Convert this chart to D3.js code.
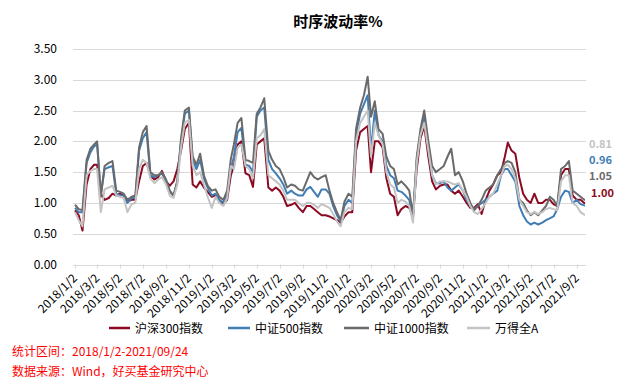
<!DOCTYPE html>
<html><head><meta charset="utf-8">
<script src="https://cdn.jsdelivr.net/npm/d3@7"></script>
<style>
body{margin:0;background:#fff;}
svg{display:block;}
text{font-family:"Noto Sans CJK SC","Liberation Sans",sans-serif;}
</style></head>
<body><svg id="c" width="624" height="382"></svg>
<script>
const title = "时序波动率%";
const seriesNames = ["沪深300指数","中证500指数","中证1000指数","万得全A"];
const seriesColors = ["#8B0A22","#3F7DB4","#6A6A6A","#C3C3C3"];
const yTicks = [0,0.5,1,1.5,2,2.5,3,3.5];
const xTickLabels = ["2018/1/2","2018/3/2","2018/5/2","2018/7/2","2018/9/2","2018/11/2","2019/1/2","2019/3/2","2019/5/2","2019/7/2","2019/9/2","2019/11/2","2020/1/2","2020/3/2","2020/5/2","2020/7/2","2020/9/2","2020/11/2","2021/1/2","2021/3/2","2021/5/2","2021/7/2","2021/9/2"];
const endLabels = ["1.00","0.96","1.05","0.81"];
const footer1 = "统计区间：2018/1/2-2021/09/24";
const footer2 = "数据来源：Wind，好买基金研究中心";

const dates = [
"2018-01-02","2018-01-12","2018-01-22","2018-02-02","2018-02-12","2018-02-22","2018-03-02","2018-03-12","2018-03-22","2018-04-02","2018-04-12","2018-04-22",
"2018-05-02","2018-05-12","2018-05-22","2018-06-02","2018-06-12","2018-06-22","2018-07-02","2018-07-12","2018-07-22","2018-08-02","2018-08-12","2018-08-22",
"2018-09-02","2018-09-12","2018-09-22","2018-10-02","2018-10-12","2018-10-22","2018-11-02","2018-11-12","2018-11-22","2018-12-02","2018-12-12","2018-12-22",
"2019-01-02","2019-01-12","2019-01-22","2019-02-02","2019-02-12","2019-02-22","2019-03-02","2019-03-12","2019-03-22","2019-04-02","2019-04-12","2019-04-22",
"2019-05-02","2019-05-12","2019-05-22","2019-06-02","2019-06-12","2019-06-22","2019-07-02","2019-07-12","2019-07-22","2019-08-02","2019-08-12","2019-08-22",
"2019-09-02","2019-09-12","2019-09-22","2019-10-02","2019-10-12","2019-10-22","2019-11-02","2019-11-12","2019-11-22","2019-12-02","2019-12-12","2019-12-22",
"2020-01-02","2020-01-12","2020-01-22","2020-02-02","2020-02-12","2020-02-22","2020-03-02","2020-03-12","2020-03-22","2020-04-02","2020-04-12","2020-04-22",
"2020-05-02","2020-05-12","2020-05-22","2020-06-02","2020-06-12","2020-06-22","2020-07-02","2020-07-12","2020-07-22","2020-08-02","2020-08-12","2020-08-22",
"2020-09-02","2020-09-12","2020-09-22","2020-10-02","2020-10-12","2020-10-22","2020-11-02","2020-11-12","2020-11-22","2020-12-02","2020-12-12","2020-12-22",
"2021-01-02","2021-01-12","2021-01-22","2021-02-02","2021-02-12","2021-02-22","2021-03-02","2021-03-12","2021-03-22","2021-04-02","2021-04-12","2021-04-22",
"2021-05-02","2021-05-12","2021-05-22","2021-06-02","2021-06-12","2021-06-22","2021-07-02","2021-07-12","2021-07-22","2021-08-02","2021-08-12","2021-08-22",
"2021-09-02","2021-09-12","2021-09-22","2021-09-24"];

const hs300 = [
0.88,0.80,0.55,1.30,1.55,1.62,1.62,1.15,1.05,1.08,1.15,1.12,
1.15,1.12,1.02,1.05,1.05,1.35,1.60,1.65,1.45,1.38,1.42,1.52,
1.35,1.28,1.35,1.55,1.85,2.20,2.30,1.30,1.25,1.35,1.25,1.18,
1.10,1.12,1.05,0.98,1.05,1.45,1.60,1.95,2.00,1.48,1.45,1.26,
1.95,2.00,2.05,1.25,1.20,1.25,1.20,1.10,0.95,0.97,1.00,0.92,
0.85,0.95,0.95,0.90,0.85,0.80,0.80,0.78,0.75,0.72,0.68,0.78,
0.85,0.85,1.85,2.15,2.20,2.25,1.50,2.00,2.00,1.90,1.40,1.15,
1.10,0.80,0.90,0.95,0.92,0.80,1.55,2.05,2.25,1.75,1.35,1.22,
1.28,1.30,1.30,1.20,1.15,1.20,1.10,1.00,0.92,0.92,0.98,0.82,
1.05,1.20,1.30,1.45,1.50,1.75,1.98,1.85,1.80,1.40,1.15,1.05,
1.00,1.15,1.00,1.00,1.05,1.05,0.98,0.95,1.45,1.55,1.55,1.12,
1.05,1.05,1.00,1.00];

const zz500 = [
0.92,0.85,0.85,1.65,1.82,1.92,1.95,1.15,1.55,1.58,1.60,1.15,
1.12,1.12,1.00,1.08,1.08,1.85,2.05,2.15,1.45,1.42,1.45,1.48,
1.35,1.18,1.12,1.35,2.00,2.45,2.50,1.70,1.55,1.70,1.40,1.25,
1.12,1.15,1.05,1.00,1.15,1.55,1.75,2.15,2.22,1.62,1.60,1.50,
2.40,2.50,2.55,1.70,1.55,1.48,1.40,1.30,1.15,1.20,1.15,1.12,
1.12,1.22,1.26,1.18,1.10,1.22,1.22,1.15,0.95,0.80,0.70,0.95,
1.05,1.00,2.10,2.45,2.60,2.75,1.85,2.50,2.10,2.00,1.60,1.45,
1.40,1.20,1.18,1.12,1.05,0.75,1.70,2.15,2.40,1.90,1.45,1.32,
1.32,1.35,1.25,1.20,1.25,1.30,1.20,1.05,0.95,0.90,0.95,1.00,
1.05,1.10,1.15,1.20,1.45,1.55,1.55,1.45,1.35,0.95,0.80,0.70,
0.65,0.68,0.65,0.68,0.72,0.75,0.78,0.90,1.10,1.20,1.18,1.00,
1.05,0.98,0.96,0.96];

const zz1000 = [
0.97,0.90,0.88,1.70,1.88,1.95,2.00,1.10,1.60,1.65,1.68,1.20,
1.18,1.15,1.05,1.10,1.12,1.90,2.15,2.25,1.50,1.45,1.45,1.50,
1.38,1.20,1.12,1.35,2.05,2.50,2.55,1.75,1.62,1.80,1.45,1.28,
1.20,1.22,1.10,1.05,1.20,1.72,1.95,2.30,2.38,1.70,1.68,1.65,
2.45,2.55,2.70,1.85,1.70,1.60,1.55,1.42,1.25,1.30,1.28,1.22,
1.20,1.35,1.50,1.42,1.38,1.42,1.45,1.20,1.00,0.85,0.72,1.02,
1.15,1.10,2.20,2.55,2.75,3.05,2.40,2.65,2.20,2.12,1.75,1.60,
1.55,1.30,1.35,1.28,1.20,0.80,1.75,2.20,2.50,2.00,1.60,1.50,
1.55,1.60,1.75,1.88,1.45,1.50,1.35,1.15,1.00,0.88,0.95,1.05,
1.20,1.25,1.30,1.45,1.55,1.65,1.68,1.65,1.50,1.05,1.00,0.88,
0.80,0.85,0.80,0.88,0.95,1.10,1.05,0.95,1.55,1.60,1.68,1.20,
1.15,1.10,1.05,1.05];

const wind = [
0.85,0.72,0.62,1.45,1.52,1.55,1.55,0.85,1.22,1.25,1.28,1.12,
1.10,1.08,0.85,0.98,1.00,1.55,1.70,1.65,1.40,1.32,1.38,1.42,
1.30,1.12,1.08,1.30,1.90,2.30,2.35,1.60,1.45,1.50,1.30,1.10,
0.92,1.10,1.00,0.95,1.08,1.60,1.55,1.90,1.95,1.60,1.55,1.40,
2.05,2.10,2.20,1.45,1.40,1.35,1.30,1.20,1.05,1.05,1.05,1.00,
0.95,1.00,1.00,0.97,0.92,0.98,0.95,0.92,0.82,0.70,0.62,0.85,
0.92,0.90,2.00,2.30,2.40,2.50,1.75,2.30,2.10,1.95,1.50,1.30,
1.25,1.00,1.05,1.02,0.95,0.68,1.65,2.10,2.30,1.85,1.45,1.30,
1.35,1.35,1.35,1.32,1.30,1.32,1.20,1.10,0.95,0.85,0.82,0.90,
1.00,1.10,1.15,1.30,1.45,1.60,1.62,1.55,1.40,1.05,0.95,0.85,
0.82,0.85,0.82,0.85,0.90,0.92,0.90,0.88,1.35,1.45,1.45,1.00,
0.95,0.85,0.81,0.81];

const allSeries = [hs300, zz500, zz1000, wind];

const svg = d3.select("#c");
const parse = d3.timeParse("%Y-%m-%d");
const parseTick = d3.timeParse("%Y/%m/%d");
const x = d3.scaleTime().domain([parse("2018-01-02"), parse("2021-09-24")]).range([75, 585]);
const y = d3.scaleLinear().domain([0, 3.5]).range([264.5, 49]);

// grid
svg.append("g").selectAll("line").data(yTicks).join("line")
  .attr("x1", 73).attr("x2", 586)
  .attr("y1", d => Math.round(y(d)) + 0.5).attr("y2", d => Math.round(y(d)) + 0.5)
  .attr("stroke", "#d9d9d9").attr("stroke-width", 1);

// y labels
svg.append("g").selectAll("text").data(yTicks).join("text")
  .attr("x", 57).attr("y", d => y(d) + 4)
  .attr("text-anchor", "end").attr("font-size", 12).attr("fill", "#000")
  .text(d => d3.format(".2f")(d));

// x ticks & labels
const tickDates = xTickLabels.map(s => parseTick(s));
svg.append("g").selectAll("line").data(tickDates).join("line")
  .attr("x1", d => Math.round(x(d)) + 0.5).attr("x2", d => Math.round(x(d)) + 0.5)
  .attr("y1", y(0)).attr("y2", y(0) + 4)
  .attr("stroke", "#d9d9d9");
svg.append("g").selectAll("text").data(xTickLabels).join("text")
  .attr("transform", (d, i) => `translate(${x(tickDates[i]) + 3},${279}) rotate(-45)`)
  .attr("text-anchor", "end").attr("font-size", 12).attr("fill", "#000")
  .text(d => d);

// lines
const line = d3.line().x((d, i) => x(parse(dates[i]))).y(d => y(d));
svg.append("g").selectAll("path").data(allSeries).join("path")
  .attr("d", d => line(d))
  .attr("fill", "none")
  .attr("stroke", (d, i) => seriesColors[i])
  .attr("stroke-width", 2)
  .attr("stroke-linejoin", "round");

// end labels
const endY = [197, 164, 180, 148];
const endX = [591, 589, 589, 589];
svg.append("g").selectAll("text").data(endLabels).join("text")
  .attr("x", (d, i) => endX[i]).attr("y", (d, i) => endY[i])
  .attr("font-size", 11).attr("font-weight", "bold")
  .attr("font-family", "Liberation Sans, sans-serif")
  .attr("fill", (d, i) => seriesColors[i])
  .text(d => d);

// title
svg.append("text").attr("x", 338).attr("y", 27).attr("text-anchor", "middle")
  .attr("font-size", 15).attr("font-weight", "bold").attr("fill", "#000").text(title);

// legend
const legX = [109, 228, 344, 467];
const legW = [21, 22, 25, 23];
const leg = svg.append("g").selectAll("g").data(seriesNames).join("g")
  .attr("transform", (d, i) => `translate(${legX[i]},328)`);
leg.append("line").attr("x1", 0).attr("x2", (d, i) => legW[i]).attr("y1", 0).attr("y2", 0)
  .attr("stroke", (d, i) => seriesColors[i]).attr("stroke-width", 2.5);
leg.append("text").attr("x", (d, i) => legW[i] + 5).attr("y", 4.5)
  .attr("font-size", 12).attr("fill", "#000").text(d => d);

// footer
svg.append("text").attr("x", 12).attr("y", 356).attr("font-size", 12).attr("fill", "#ff0000").text(footer1);
svg.append("text").attr("x", 12).attr("y", 376).attr("font-size", 12).attr("fill", "#ff0000").text(footer2);
</script></body></html>
